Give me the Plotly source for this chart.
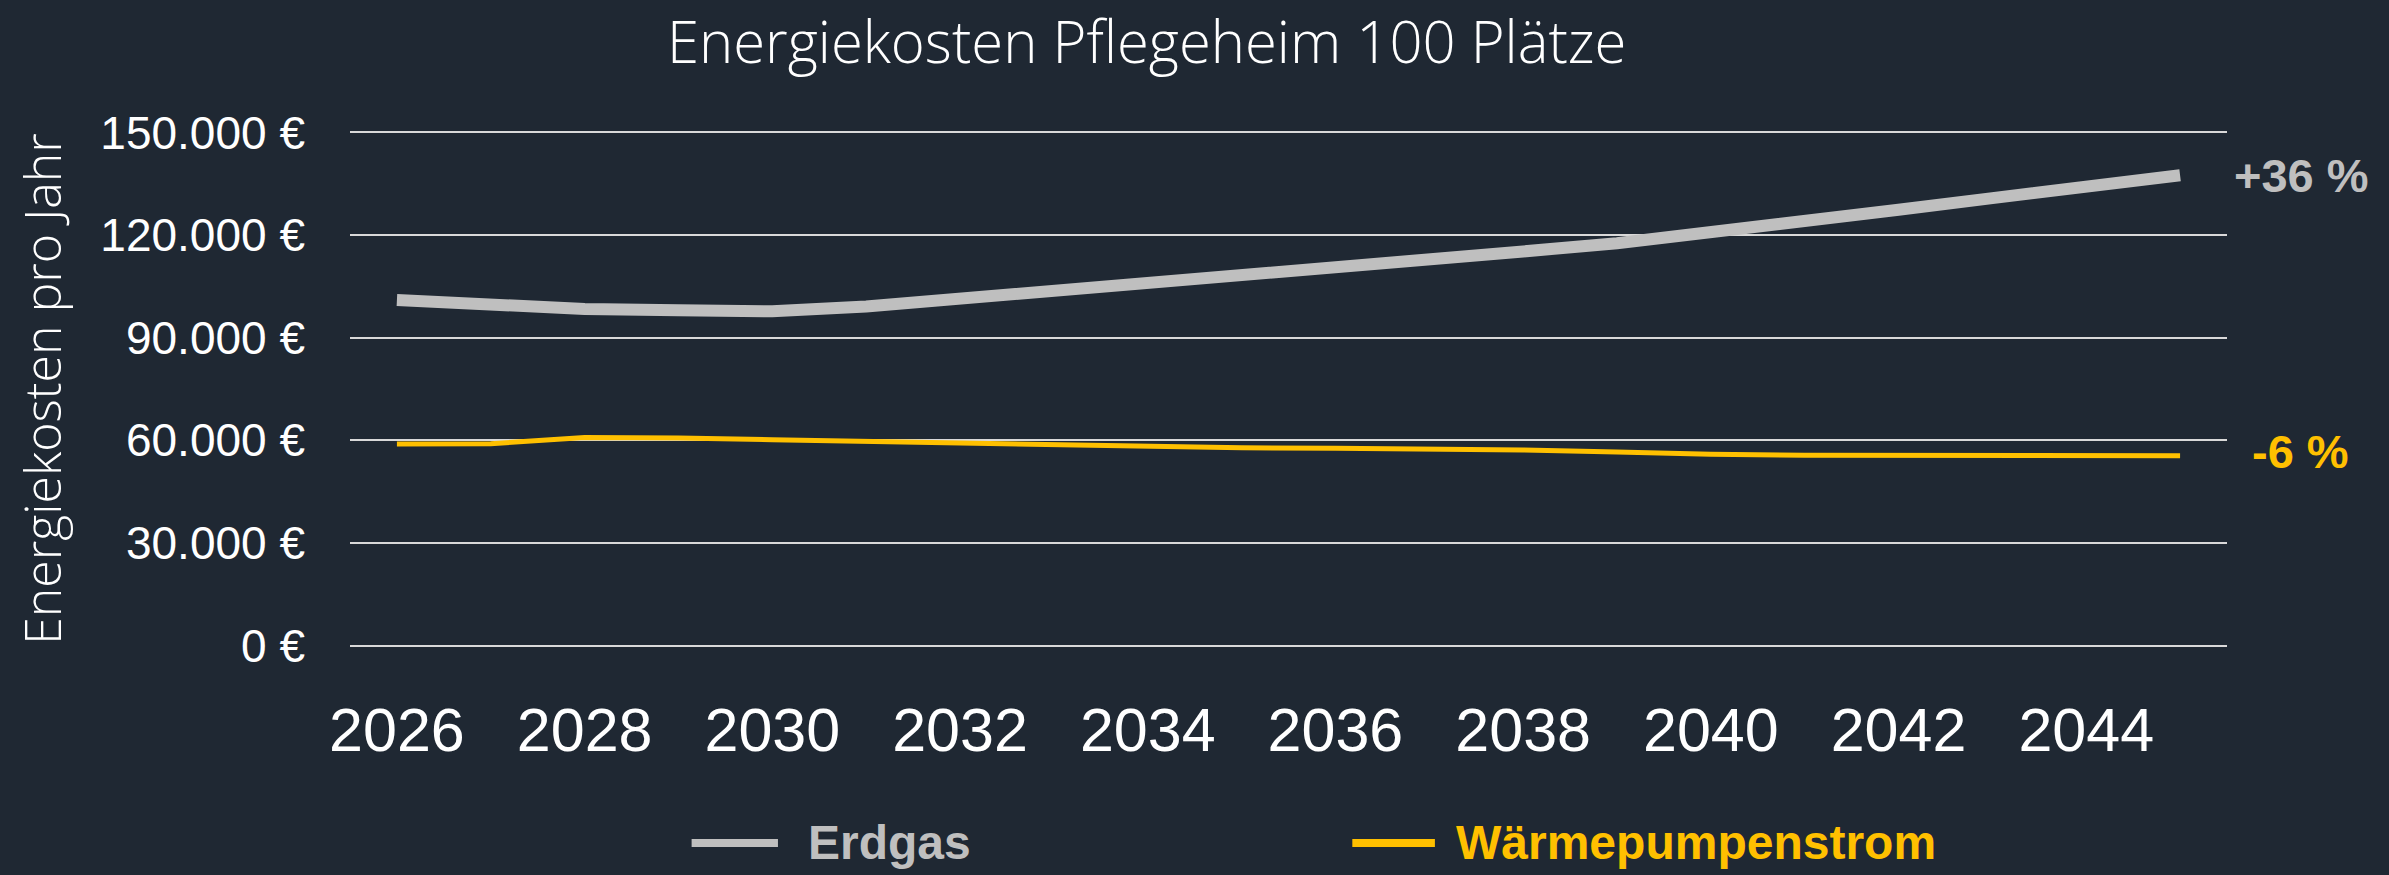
import plotly.graph_objects as go

years = list(range(2026, 2046))
erdgas = [101000, 99600, 98400, 98000, 97700, 99100, 101300, 103700, 106200, 108600,
          110800, 113000, 115200, 117600, 120600, 124000, 127400, 130800, 134200, 137500]
waermepumpe = [58900, 59000, 60800, 60700, 60200, 59700, 59400, 58900, 58400, 57800,
               57700, 57500, 57200, 56600, 55900, 55600, 55500, 55500, 55500, 55500]
y_ticks = [0, 30000, 60000, 90000, 120000, 150000]
y_tick_labels = ["0 €", "30.000 €", "60.000 €", "90.000 €", "120.000 €", "150.000 €"]
x_ticks = list(range(2026, 2046, 2))

bg = "#1f2833"
grey = "#bfbfbf"
yellow = "#ffc000"
label_font = "Liberation Sans, Arial, sans-serif"
title_font = "Open Sans, Noto Sans, sans-serif"

fig = go.Figure()
fig.add_trace(go.Scatter(x=years, y=erdgas, mode="lines", name="Erdgas",
                         line=dict(color=grey, width=12)))
fig.add_trace(go.Scatter(x=years, y=waermepumpe, mode="lines", name="Wärmepumpenstrom",
                         line=dict(color=yellow, width=5)))


def pct_text(values):
    pct = round((values[-1] / values[0] - 1) * 100)
    return ("+" if pct > 0 else "") + f"{pct} %"


fig.add_annotation(x=years[-1], y=erdgas[-1], text=pct_text(erdgas), showarrow=False,
                   xanchor="left", xshift=52, font=dict(family=label_font, size=47, color=grey, weight="bold"))
fig.add_annotation(x=years[-1], y=waermepumpe[-1], text=pct_text(waermepumpe), showarrow=False,
                   xanchor="left", xshift=70, yshift=4,
                   font=dict(family=label_font, size=47, color=yellow, weight="bold"))

# legend drawn by hand below the axis (paper coordinates)
legend_y = -0.373
for x0, x1, tx, name, col in [(0.182, 0.228, 0.243, "Erdgas", grey),
                              (0.534, 0.578, 0.588, "Wärmepumpenstrom", yellow)]:
    fig.add_shape(type="line", xref="paper", yref="paper", x0=x0, x1=x1, y0=legend_y, y1=legend_y,
                  line=dict(color=col, width=8))
    fig.add_annotation(xref="paper", yref="paper", x=tx, y=legend_y, text=name, showarrow=False,
                       xanchor="left", yanchor="middle",
                       font=dict(family=label_font, size=48, color=col, weight="bold"))

fig.update_layout(
    width=2389, height=875,
    paper_bgcolor=bg, plot_bgcolor=bg,
    margin=dict(l=350, r=162, t=128.6, b=225.6),
    showlegend=False,
    title=dict(text="Energiekosten Pflegeheim 100 Plätze", xref="container", x=0.48,
               xanchor="center", y=0.951, yanchor="middle",
               font=dict(family=title_font, size=58, color="white", weight=300)),
    font=dict(family=label_font, color="white"),
)
fig.update_xaxes(range=[2025.5, 2045.5], tickvals=x_ticks, showgrid=False, zeroline=False,
                 showline=False, tickfont=dict(size=61, color="white"), ticklabelstandoff=40)
fig.update_yaxes(range=[-1000, 151000], tickvals=y_ticks, ticktext=y_tick_labels,
                 showgrid=True, gridcolor="#d9d9d9", gridwidth=2, zeroline=False,
                 tickfont=dict(size=46, color="white"), ticklabelstandoff=44,
                 title=dict(text="Energiekosten pro Jahr", standoff=22,
                            font=dict(family=title_font, size=50, color="white", weight=300)))

fig.write_html("out.html", config={"displayModeBar": False},
               post_script="document.body.style.margin='0';")
